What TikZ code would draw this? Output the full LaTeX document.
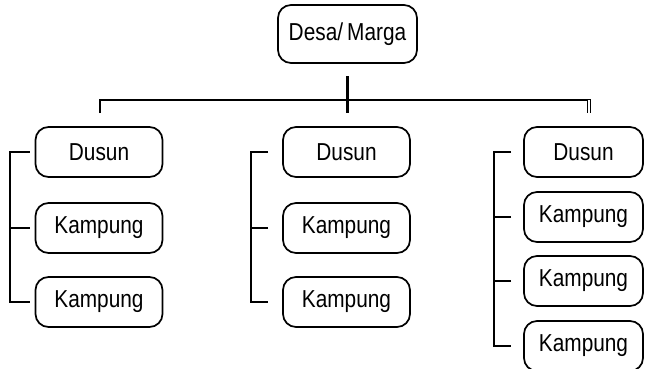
\documentclass[tikz,border=0pt]{standalone}
\usepackage{fontspec}
\setmainfont{Liberation Sans}[FakeStretch=0.85]
\usetikzlibrary{positioning}
\tikzset{
  unit/.style={draw,rounded corners=13pt,line width=1.7pt,inner sep=0pt,
    minimum width=127pt,minimum height=50pt,font=\fontsize{24.5}{28}\selectfont},
  link/.style={line width=2.3pt},
}

\begin{document}
\begin{tikzpicture}[x=1pt,y=-1pt]
  \useasboundingbox (0,0) rectangle (645,368);
  \clip (0,0) rectangle (645,368);
  % top level
  \node[unit,minimum width=139pt,minimum height=58pt] (desa) at (347.5,34) {Desa/\,Marga};
  \coordinate (t1) at (347.5,76);
  \coordinate (t2) at (347.5,113);
  \coordinate (hl) at (100,100);
  \coordinate (hr) at (589,100);
  \draw[link] (t1) -- (t2);
  \draw[link] (hl |- t2) -- (hl) -- ([xshift=2pt]hr);
  \draw[double,double distance=1.6pt,line width=1.1pt] (hr) -- (hr |- t2);
  % left column
  \node[unit] (dA)  at (99,152)  {Dusun};
  \node[unit] (kA1) at (99,228)  {Kampung};
  \node[unit] (kA2) at (99,302)  {Kampung};
  \draw[link] ([xshift=-5pt]dA.west) -- ++(-20,0) |- ([xshift=-5pt]kA2.west);
  \draw[link] ([xshift=-5pt]kA1.west) -- ++(-20,0);
  % middle column
  \node[unit] (dB)  at (346.5,152) {Dusun};
  \node[unit] (kB1) at (346.5,228) {Kampung};
  \node[unit] (kB2) at (346.5,302) {Kampung};
  \draw[link] ([xshift=-14pt]dB.west) -- ++(-17,0) |- ([xshift=-14pt]kB2.west);
  \draw[link] ([xshift=-14pt]kB1.west) -- ++(-17,0);
  % right column
  \node[unit,minimum width=119pt] (dC)  at (583.5,152) {Dusun};
  \node[unit,minimum width=119pt] (kC1) at (583.5,217) {Kampung};
  \node[unit,minimum width=119pt] (kC2) at (583.5,281) {Kampung};
  \node[unit,minimum width=119pt] (kC3) at (583.5,346) {Kampung};
  \draw[link] ([xshift=-12pt]dC.west) -- ++(-17,0) |- ([xshift=-12pt]kC3.west);
  \draw[link] ([xshift=-12pt]kC1.west) -- ++(-17,0);
  \draw[link] ([xshift=-12pt]kC2.west) -- ++(-17,0);
\end{tikzpicture}
\end{document}
